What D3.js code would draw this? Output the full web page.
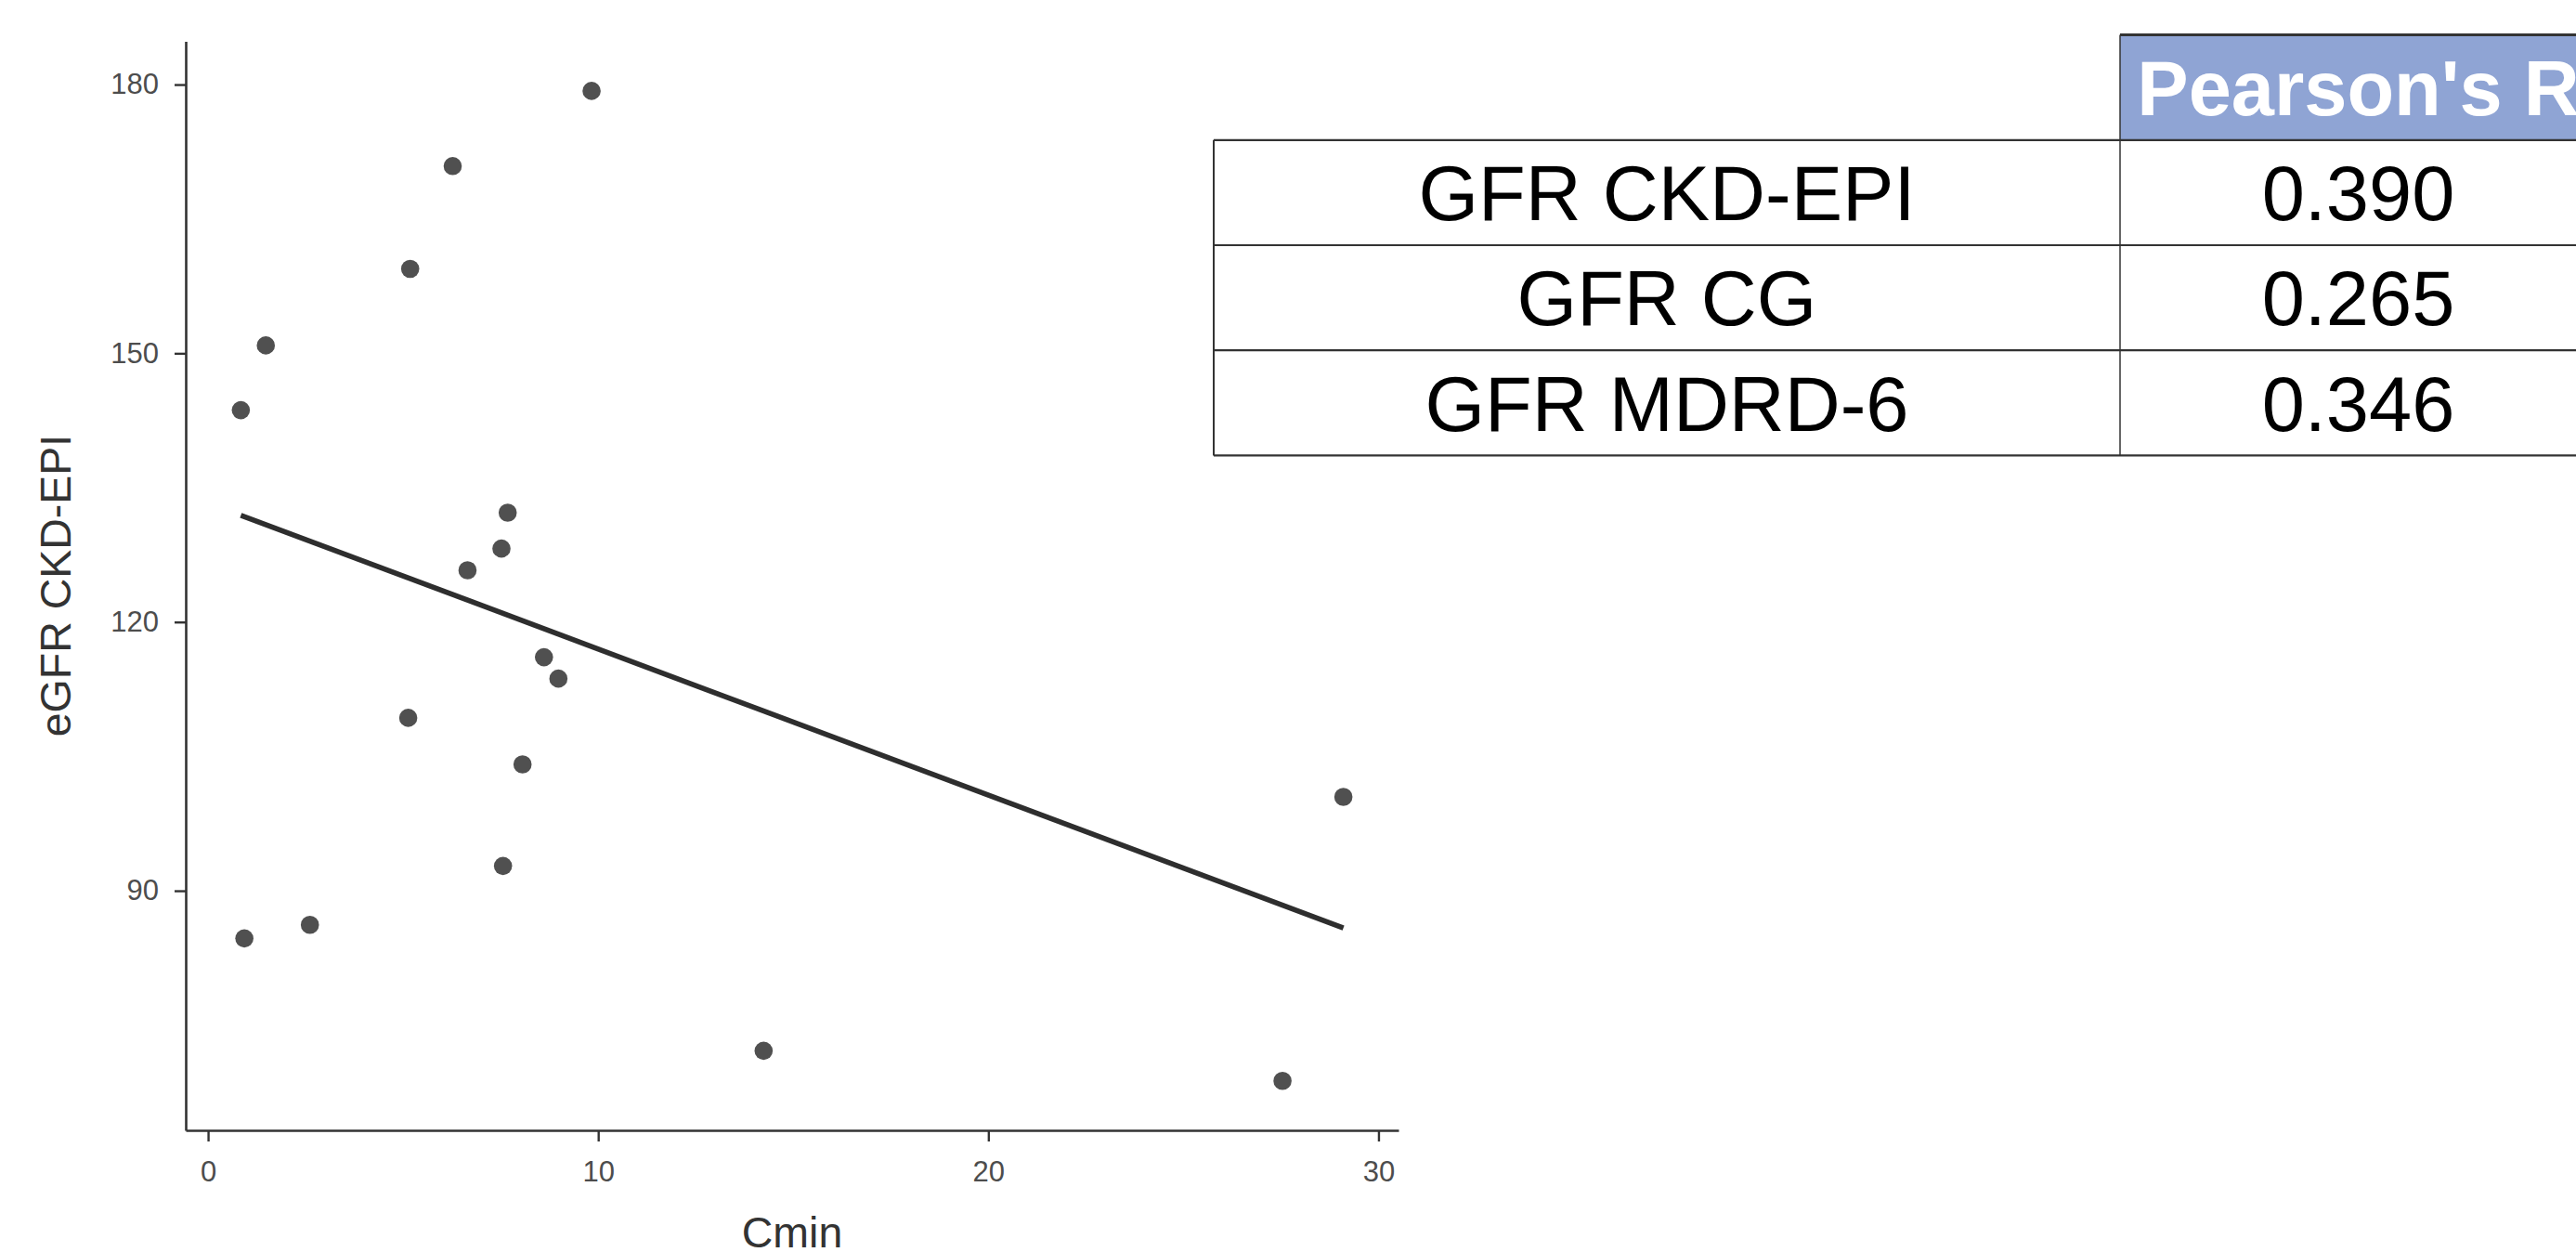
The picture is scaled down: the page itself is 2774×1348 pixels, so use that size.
<!DOCTYPE html>
<html>
<head>
<meta charset="utf-8">
<script src="https://cdn.jsdelivr.net/npm/d3@7"></script>
<style>
    body { margin: 0; background: #fff; }
    svg { display: block; }
    text { font-family: "Liberation Sans", Arial, Helvetica, sans-serif; }
</style>
</head>
<body>
<svg id="chart"></svg>
<script>
// values (Cmin vs eGFR CKD-EPI)
const cmin = [0.84, 1.48, 0.93, 2.61, 5.18, 6.27, 9.83, 5.13, 6.65, 7.52, 7.68, 8.61, 8.98, 8.06, 7.56, 14.24, 27.54, 29.1];
const egfr = [143.65, 150.88, 84.68, 86.2, 159.42, 170.9, 179.29, 109.3, 125.78, 128.2, 132.21, 116.07, 113.68, 104.11, 92.77, 72.13, 68.78, 100.48];

// linear fit, ends as drawn
const fitCmin = [0.84, 29.1];
const fitEgfr = [131.92, 85.84];

const xTicks = [0, 10, 20, 30];
const yTicks = [90, 120, 150, 180];

const tableHeader = "Pearson's R";
const tableLabels = ["GFR CKD-EPI", "GFR CG", "GFR MDRD-6"];
const tableValues = ["0.390", "0.265", "0.346"];

const width = 2774;
const height = 1348;

const svg = d3.select("#chart").attr("width", width).attr("height", height);

const panel = { left: 200, right: 1506, top: 44.6, bottom: 1217 };

const pad = (ext) => {
    const d = (ext[1] - ext[0]) * 0.05;
    return [ext[0] - d, ext[1] + d];
};

const x = d3.scaleLinear().domain(pad(d3.extent(cmin))).range([panel.left, panel.right]);
const y = d3.scaleLinear().domain(pad(d3.extent(egfr))).range([panel.bottom, panel.top]);

const points = cmin.map((c, i) => ({ cmin: c, egfr: egfr[i] }));

// axes
const xAxis = svg
    .append("g")
    .attr("transform", `translate(0,${panel.bottom})`)
    .call(d3.axisBottom(x).tickValues(xTicks).tickSizeInner(12).tickSizeOuter(0).tickPadding(21));

const yAxis = svg
    .append("g")
    .attr("transform", `translate(${panel.left},0)`)
    .call(d3.axisLeft(y).tickValues(yTicks).tickSizeInner(12).tickSizeOuter(0).tickPadding(17));

[xAxis, yAxis].forEach((g) => {
    g.select(".domain").attr("stroke", "#333").attr("stroke-width", 2.6);
    g.selectAll(".tick line").attr("stroke", "#333").attr("stroke-width", 2.4);
    g.selectAll(".tick text")
        .attr("fill", "#4d4d4d")
        .style("font-size", "31px")
        .style("font-family", "'Liberation Sans', Arial, sans-serif");
});

svg.append("text")
    .attr("x", (panel.left + panel.right) / 2)
    .attr("y", 1343)
    .attr("text-anchor", "middle")
    .attr("fill", "#333")
    .style("font-size", "46.5px")
    .text("Cmin");

svg.append("text")
    .attr("transform", `translate(76,${(469 + 792) / 2}) rotate(-90)`)
    .attr("text-anchor", "middle")
    .attr("fill", "#333")
    .style("font-size", "46.5px")
    .text("eGFR CKD-EPI");

// points
svg.append("g")
    .selectAll("circle")
    .data(points)
    .join("circle")
    .attr("cx", (d) => x(d.cmin))
    .attr("cy", (d) => y(d.egfr))
    .attr("r", 9.8)
    .attr("fill", "#505050");

// regression line
svg.append("path")
    .datum(fitCmin.map((c, i) => [c, fitEgfr[i]]))
    .attr("d", d3.line().x((d) => x(d[0])).y((d) => y(d[1])))
    .attr("fill", "none")
    .attr("stroke", "#2e2e2e")
    .attr("stroke-width", 5.6);

// correlation table, right side (runs off the edge like the source)
const tbl = { left: 1307, mid: 2283, right: 2796, top: 37.6, rowH: 113.2, font: 83 };
const table = svg.append("g");

table.append("rect")
    .attr("x", tbl.mid)
    .attr("y", tbl.top)
    .attr("width", tbl.right - tbl.mid)
    .attr("height", tbl.rowH)
    .attr("fill", "#8fa4d4");

table.append("text")
    .attr("x", (tbl.mid + tbl.right) / 2)
    .attr("y", tbl.top + tbl.rowH / 2 + tbl.font * 0.358)
    .attr("text-anchor", "middle")
    .attr("fill", "#fff")
    .style("font-size", `${tbl.font}px`)
    .style("font-weight", "bold")
    .text(tableHeader);

const rowY = (i) => tbl.top + tbl.rowH * (i + 1);

table.selectAll(".label")
    .data(tableLabels)
    .join("text")
    .attr("class", "label")
    .attr("x", (tbl.left + tbl.mid) / 2)
    .attr("y", (d, i) => rowY(i) + tbl.rowH / 2 + tbl.font * 0.358)
    .attr("text-anchor", "middle")
    .attr("fill", "#000")
    .style("font-size", `${tbl.font}px`)
    .text((d) => d);

table.selectAll(".value")
    .data(tableValues)
    .join("text")
    .attr("class", "value")
    .attr("x", (tbl.mid + tbl.right) / 2)
    .attr("y", (d, i) => rowY(i) + tbl.rowH / 2 + tbl.font * 0.358)
    .attr("text-anchor", "middle")
    .attr("fill", "#000")
    .style("font-size", `${tbl.font}px`)
    .text((d) => d);

// grid lines of the table
const hLines = d3.range(tableLabels.length + 1).map((i) => ({ x1: tbl.left, x2: tbl.right, y: rowY(i) }));
table.selectAll(".hline")
    .data(hLines)
    .join("line")
    .attr("class", "hline")
    .attr("x1", (d) => d.x1)
    .attr("x2", (d) => d.x2)
    .attr("y1", (d) => d.y)
    .attr("y2", (d) => d.y)
    .attr("stroke", "#333")
    .attr("stroke-width", 2.2);

table.append("line")
    .attr("x1", tbl.mid)
    .attr("x2", tbl.right)
    .attr("y1", tbl.top)
    .attr("y2", tbl.top)
    .attr("stroke", "#333")
    .attr("stroke-width", 3);

table.append("line")
    .attr("x1", tbl.left)
    .attr("x2", tbl.left)
    .attr("y1", rowY(0))
    .attr("y2", rowY(tableLabels.length))
    .attr("stroke", "#333")
    .attr("stroke-width", 2);

table.append("line")
    .attr("x1", tbl.mid)
    .attr("x2", tbl.mid)
    .attr("y1", tbl.top)
    .attr("y2", rowY(tableLabels.length))
    .attr("stroke", "#333")
    .attr("stroke-width", 1.5);
</script>
</body>
</html>
